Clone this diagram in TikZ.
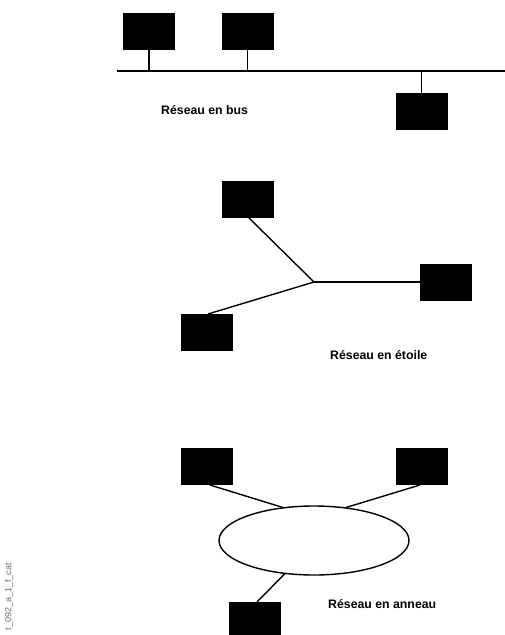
\documentclass[tikz,border=0pt]{standalone}
\usepackage{fontspec}
\setmainfont{Liberation Sans}
\usetikzlibrary{shapes.geometric}
\begin{document}
\begin{tikzpicture}[x=1pt,y=-1pt,
  pc/.style={draw=black,fill=black,minimum width=51pt,minimum height=36pt,inner sep=0pt,outer sep=0pt},
  link/.style={draw=black,line width=1.4pt},
  lbl/.style={font=\fontsize{12.3}{14}\selectfont\bfseries,inner sep=0pt,anchor=west}]
\useasboundingbox (0,0) rectangle (505,635);
% bus
\node[pc] (b1) at (149,31) {};
\node[pc] (b2) at (247.5,31) {};
\node[pc] (b3) at (421.5,111.5) {};
\coordinate (busL) at (117,71);
\coordinate (busR) at (505,71);
\coordinate (j1) at (149,71);
\coordinate (j2) at (247.5,71);
\coordinate (j3) at (421.5,71);
\draw[link] (busL) -- (busR);
\draw[link] (b1.south) -- (j1);
\draw[link] (b2.south) -- (j2);
\draw[link] (j3) -- (b3.north);
\node[lbl] (lbus) at (161,110) {Réseau en bus};
% star
\node[pc] (s1) at (247.5,199) {};
\node[pc] (s2) at (446,282) {};
\node[pc] (s3) at (206.5,332) {};
\coordinate (hub) at (314,282);
\draw[link] (248,217) -- (hub);
\draw[link] (hub) -- (s2.west);
\draw[link] (hub) -- (208,314);
\node[lbl] (lstar) at (330,355) {Réseau en étoile};
% ring
\node[pc] (r1) at (206.5,466.5) {};
\node[pc] (r2) at (422,466.5) {};
\node[pc] (r3) at (255,620) {};
\node[draw=black,line width=1.4pt,ellipse,minimum width=190pt,minimum height=69pt,inner sep=0pt] (ring) at (314,540.5) {};
\draw[link] (210,485) -- (283,507.5);
\draw[link] (420,485) -- (346,507.5);
\draw[link] (257,602) -- (285,573.5);
\node[lbl] (lring) at (328,604) {Réseau en anneau};
% side code
\node[rotate=90,anchor=east,font=\fontsize{9}{10}\selectfont,text=black!60,inner sep=0pt] (code) at (9,563) {t\_092\_a\_1\_f\_cat};
\end{tikzpicture}
\end{document}
